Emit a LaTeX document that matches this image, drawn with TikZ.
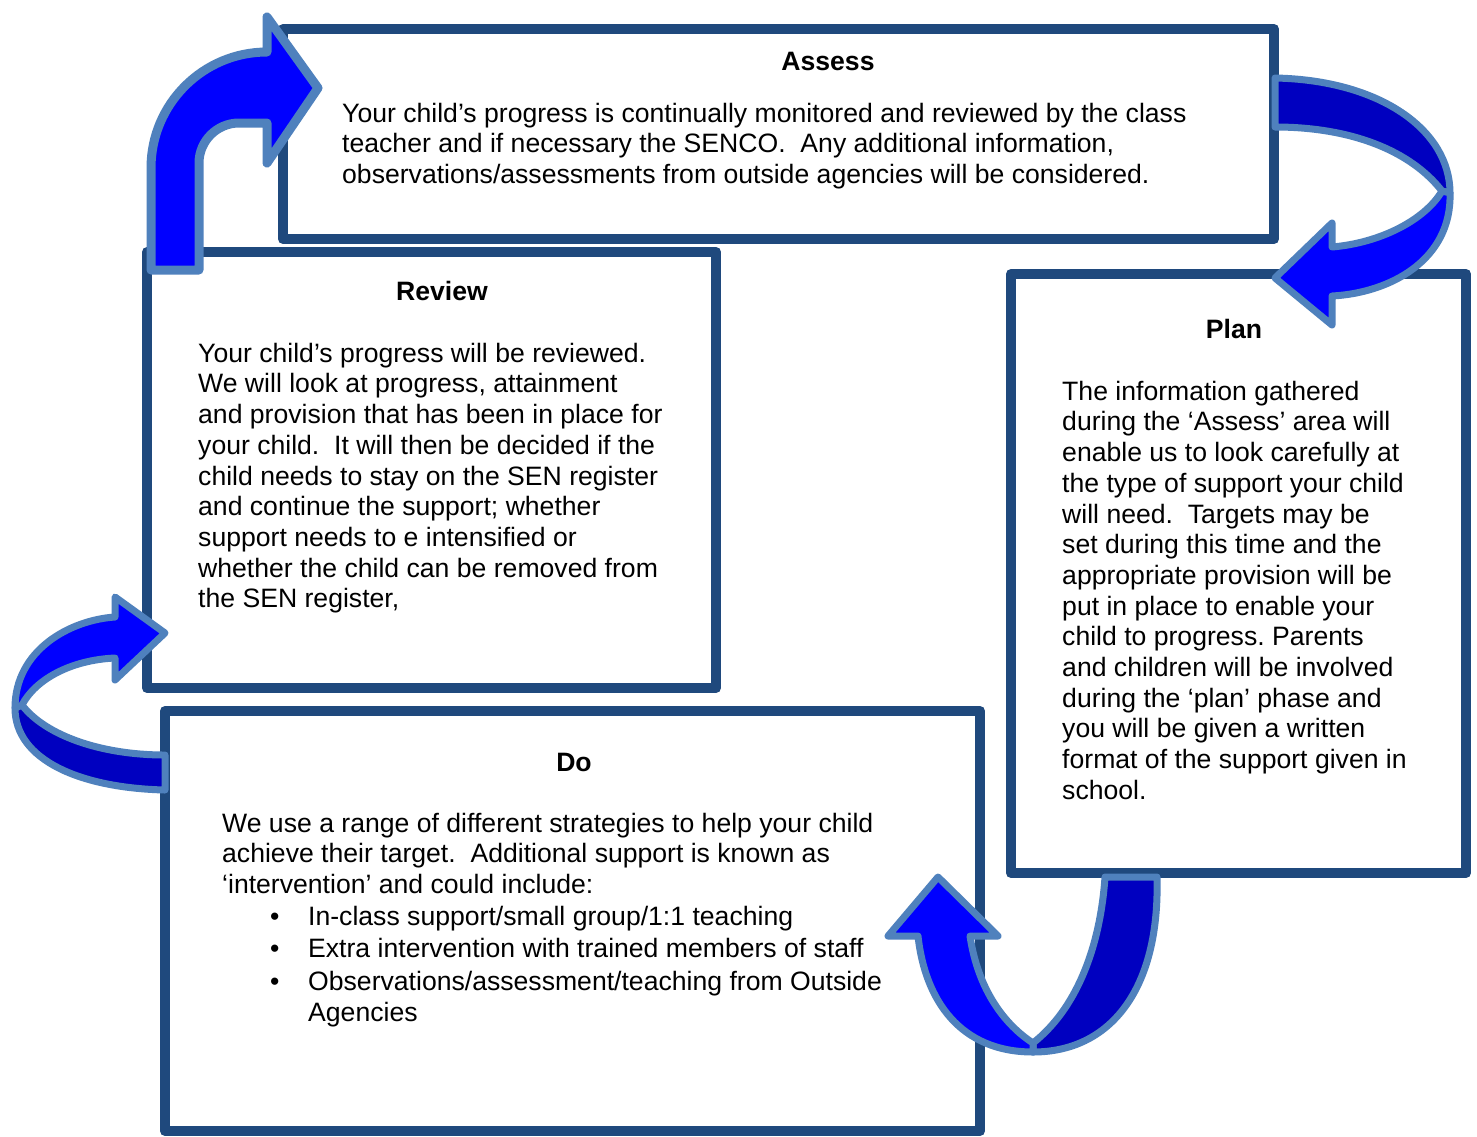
\documentclass[tikz,border=0pt]{standalone}
\usepackage{fontspec}
\setmainfont{Liberation Sans}
\definecolor{boxblue}{RGB}{31,73,125}
\definecolor{arrline}{RGB}{79,129,189}
\definecolor{arrlight}{RGB}{0,0,255}
\definecolor{arrdark}{RGB}{0,0,192}
\newcommand\bodyfont{\fontsize{26.6}{30.7}\selectfont}
\frenchspacing
\begin{document}
\begin{tikzpicture}[x=1pt,y=-1pt,
  frame/.style={draw=boxblue,line width=10pt,line join=round,fill=white},
  arrowpart/.style={draw=arrline,line width=7pt,line join=round},
  body/.style={anchor=north west,inner sep=0pt,align=left,font=\bodyfont},
  heading/.style={anchor=base,inner sep=0pt,font=\bodyfont\bfseries}]
\useasboundingbox (0,0) rectangle (1477,1136);
\fill[white] (0,0) rectangle (1477,1136);
% boxes
\draw[frame] (283,29) rectangle (1274,239);
\draw[frame] (147,252) rectangle (716,688);
\draw[frame] (1011,274) rectangle (1466,873);
\draw[frame] (165,711) rectangle (980,1131);
% titles
\node[heading] (assessTitle) at (828,70) {Assess};
\node[heading] (reviewTitle) at (442,300) {Review};
\node[heading] (planTitle) at (1234,338) {Plan};
\node[heading] (doTitle) at (574,771) {Do};
% bodies
\node[body] (assessText) at (342,100.5) {\strut Your child’s progress is continually monitored and reviewed by the class\\
teacher and if necessary the SENCO.\ \ Any additional information,\\
observations/assessments from outside agencies will be considered.};
\node[body] (reviewText) at (198,340.5) {\strut Your child’s progress will be reviewed.\\
We will look at progress, attainment\\
and provision that has been in place for\\
your child.\ \ It will then be decided if the\\
child needs to stay on the SEN register\\
and continue the support; whether\\
support needs to e intensified or\\
whether the child can be removed from\\
the SEN register,};
\node[body] (planText) at (1062,378.5) {\strut The information gathered\\
during the ‘Assess’ area will\\
enable us to look carefully at\\
the type of support your child\\
will need.\ \ Targets may be\\
set during this time and the\\
appropriate provision will be\\
put in place to enable your\\
child to progress. Parents\\
and children will be involved\\
during the ‘plan’ phase and\\
you will be given a written\\
format of the support given in\\
school.};
\node[body] (doText) at (222,810.5) {\strut We use a range of different strategies to help your child\\
achieve their target.\ \ Additional support is known as\\
‘intervention’ and could include:};
\node[body] (doList) at (270,903.5) {\strut\makebox[38pt][l]{\textbullet}In-class support/small group/1:1 teaching\\[2pt]
\makebox[38pt][l]{\textbullet}Extra intervention with trained members of staff\\[2pt]
\makebox[38pt][l]{\textbullet}Observations/assessment/teaching from Outside\\
\hspace*{38pt}Agencies};
% arrow 1: Review -> Assess
\draw[arrowpart,fill=arrlight,line width=9pt] (151,270) -- (151,168) .. controls (151,104) and (203,52) .. (267,52) -- (267,17) -- (318,88) -- (267,163) -- (267,123) -- (239,123) .. controls (217,123) and (199,141) .. (199,163) -- (199,270) -- cycle;
% arrow 2: Assess -> Plan
\draw[arrowpart,fill=arrdark] (1275,78) .. controls (1380,80) and (1450,130) .. (1450,193) -- (1442,191) .. controls (1410,150) and (1350,127) .. (1275,127) -- cycle;
\draw[arrowpart,fill=arrlight] (1450,193) .. controls (1452,260) and (1390,293) .. (1332,296) -- (1332,325) -- (1275,278) -- (1332,223) -- (1332,247) .. controls (1380,243) and (1425,220) .. (1442,191) -- cycle;
% arrow 3: Do -> Review
\draw[arrowpart,fill=arrdark] (165,790) .. controls (80,788) and (15,760) .. (15,708) -- (22,705) .. controls (45,735) and (100,755) .. (165,755) -- cycle;
\draw[arrowpart,fill=arrlight] (15,708) .. controls (15,650) and (70,620) .. (115,617) -- (115,597) -- (165,633) -- (115,680) -- (115,658) .. controls (70,660) and (35,680) .. (22,705) -- cycle;
% arrow 4: Plan -> Do
\draw[arrowpart,fill=arrdark] (1157,877) .. controls (1160,990) and (1110,1052) .. (1033,1052) -- (1033,1043) .. controls (1075,1010) and (1100,950) .. (1105,877) -- cycle;
\draw[arrowpart,fill=arrlight] (1033,1052) .. controls (960,1052) and (925,1000) .. (918,936) -- (888,936) -- (938,877) -- (998,936) -- (970,936) .. controls (978,990) and (1005,1025) .. (1033,1043) -- cycle;
\end{tikzpicture}
\end{document}
